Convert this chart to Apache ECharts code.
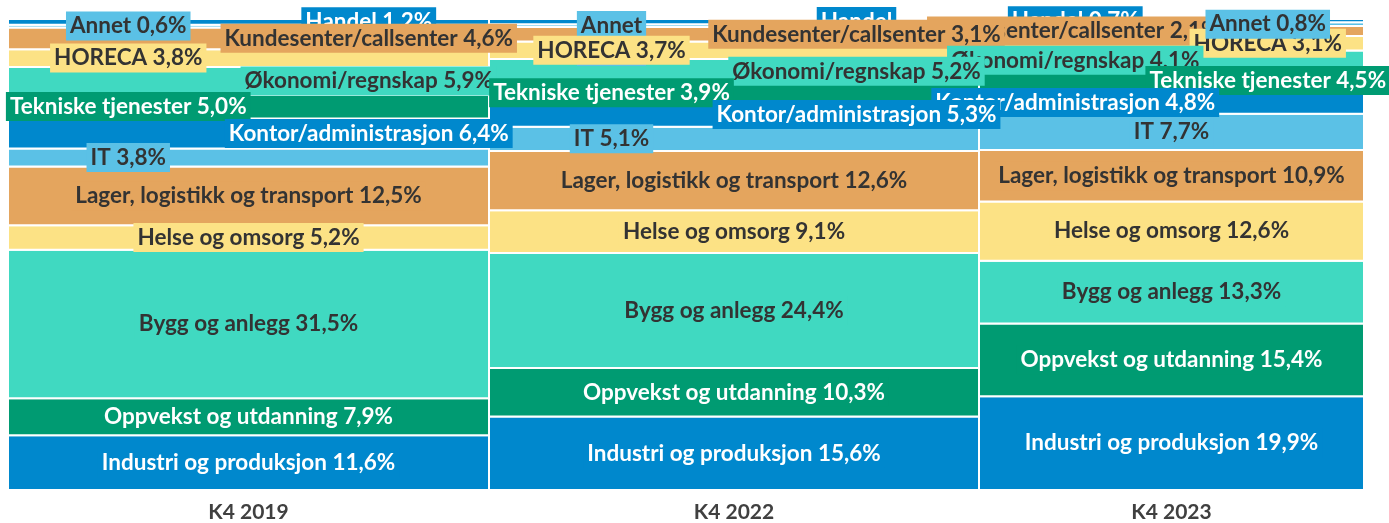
<!DOCTYPE html>
<html>
<head>
<meta charset="utf-8">
<script src="https://cdn.jsdelivr.net/npm/echarts@6/dist/echarts.min.js"></script>
<style>
  html, body { margin: 0; padding: 0; background: #fff; }
  #chart { width: 1389px; height: 523px; }
</style>
</head>
<body>
<div id="chart"></div>
<script>
// categories (columns) and their relative widths
var categories = ['K4 2019', 'K4 2022', 'K4 2023'];
var columnWeight = [481, 490, 385];

// shares per column, bottom to top
var industri = [11.6, 15.6, 19.9];
var oppvekst = [7.9, 10.3, 15.4];
var bygg = [31.5, 24.4, 13.3];
var helse = [5.2, 9.1, 12.6];
var lager = [12.5, 12.6, 10.9];
var it = [3.8, 5.1, 7.7];
var kontor = [6.4, 5.3, 4.8];
var tekniske = [5.0, 3.9, 4.5];
var okonomi = [5.9, 5.2, 4.1];
var horeca = [3.8, 3.7, 3.1];
var kundesenter = [4.6, 3.1, 2.1];
var annet = [0.6, 0.6, 0.8];
var handel = [1.2, 1.1, 0.7];

var names = ['Industri og produksjon', 'Oppvekst og utdanning', 'Bygg og anlegg',
  'Helse og omsorg', 'Lager, logistikk og transport', 'IT', 'Kontor/administrasjon',
  'Tekniske tjenester', 'Økonomi/regnskap', 'HORECA', 'Kundesenter/callsenter',
  'Annet', 'Handel'];
var values = [industri, oppvekst, bygg, helse, lager, it, kontor, tekniske,
  okonomi, horeca, kundesenter, annet, handel];

var BLUE = '#0088cd', GREEN = '#009b72', TURQ = '#40d9c1',
    YELLOW = '#fce285', ORANGE = '#e4a55e', LIGHT = '#5bc1e6';
var colors = [BLUE, GREEN, TURQ, YELLOW, ORANGE, LIGHT,
  BLUE, GREEN, TURQ, YELLOW, ORANGE, LIGHT, BLUE];

// where the label sits in each column: c = middle, l = left quarter, r = right quarter
var labelSide = [
  'ccc', 'ccc', 'ccc', 'ccc', 'ccc', 'llc', 'rrl',
  'llr', 'rrl', 'llr', 'rrl', 'llr', 'rrl'
];
// labels that wrap onto two lines (series-column), labels squeezed to the name
var wrapped = { '11-1': true };
var nameOnly = { '12-1': true };
var onTop = { '11-2': true };

var FONT = 'Lato, "Open Sans", sans-serif';

// column start positions on the x value axis
var colStart = [];
var acc = 0;
columnWeight.forEach(function (w) { colStart.push(acc); acc += w; });
var total = acc;
var colCenter = colStart.map(function (s, i) { return s + columnWeight[i] / 2; });

var colSum = categories.map(function (c, j) {
  return values.reduce(function (s, arr) { return s + arr[j]; }, 0);
});

function bounds(si, j) {
  var base = 0;
  for (var k = 0; k < si; k++) base += values[k][j];
  return [base / colSum[j] * 100, (base + values[si][j]) / colSum[j] * 100];
}

function fmt(v) { return v.toFixed(1).replace('.', ','); }

var textColor = function (c) { return c === BLUE || c === GREEN ? '#ffffff' : '#333333'; };

var series = values.map(function (arr, si) {
  return {
    name: names[si],
    type: 'custom',
    data: arr.map(function (v, j) { return [j, v]; }),
    itemStyle: { color: colors[si] },
    renderItem: function (params, api) {
      var j = params.dataIndex;
      var b = bounds(si, j);
      var p0 = api.coord([colStart[j], b[0]]);
      var p1 = api.coord([colStart[j] + columnWeight[j], b[1]]);
      return {
        type: 'rect',
        shape: { x: p0[0], y: p1[1], width: p1[0] - p0[0], height: p0[1] - p1[1] },
        style: { fill: colors[si], stroke: '#ffffff', lineWidth: 2 }
      };
    }
  };
});

// label draw order: last series first, last column first
var labelItems = [];
var topItems = [];
for (var si = values.length - 1; si >= 0; si--) {
  for (var j = categories.length - 1; j >= 0; j--) {
    if (onTop[si + '-' + j]) topItems.push([si, j]);
    else labelItems.push([si, j]);
  }
}
labelItems = labelItems.concat(topItems);

series.push({
  name: 'labels',
  type: 'custom',
  z: 5,
  silent: true,
  data: labelItems,
  renderItem: function (params, api) {
    var item = labelItems[params.dataIndex];
    var si = item[0], j = item[1];
    var key = si + '-' + j;
    var b = bounds(si, j);
    var side = labelSide[si][j];
    var frac = side === 'l' ? 0.25 : side === 'r' ? 0.75 : 0.5;
    var wrap = wrapped[key];
    var p = api.coord([colStart[j] + columnWeight[j] * frac, (b[0] + b[1]) / 2]);
    var txt = nameOnly[key] ? names[si]
      : names[si] + (wrap ? '\n' : ' ') + fmt(values[si][j]) + '%';
    return {
      type: 'text',
      x: p[0],
      y: p[1] + (wrap ? 13 : 0),
      z2: params.dataIndex,
      style: {
        text: txt,
        fontFamily: FONT,
        fontWeight: 'bold',
        fontSize: 22.5,
        lineHeight: 26,
        fill: textColor(colors[si]),
        align: 'center',
        verticalAlign: 'middle',
        backgroundColor: colors[si],
        padding: [2, 4, 1, 4]
      }
    };
  }
});

var chart = echarts.init(document.getElementById('chart'));
chart.setOption({
  animation: false,
  grid: { left: 8, right: 25, top: 19, bottom: 33 },
  xAxis: {
    type: 'value',
    min: 0,
    max: total,
    splitLine: { show: false },
    axisLine: { show: true, lineStyle: { color: '#262626', width: 1.5 } },
    axisTick: { show: false },
    axisLabel: {
      customValues: colCenter,
      formatter: function (v) {
        var i = colCenter.indexOf(v);
        return i >= 0 ? categories[i] : '';
      },
      margin: 12,
      color: '#404040',
      fontFamily: FONT,
      fontWeight: 'bold',
      fontSize: 21
    }
  },
  yAxis: {
    type: 'value',
    min: 0,
    max: 100,
    show: false
  },
  series: series
});
</script>
</body>
</html>
